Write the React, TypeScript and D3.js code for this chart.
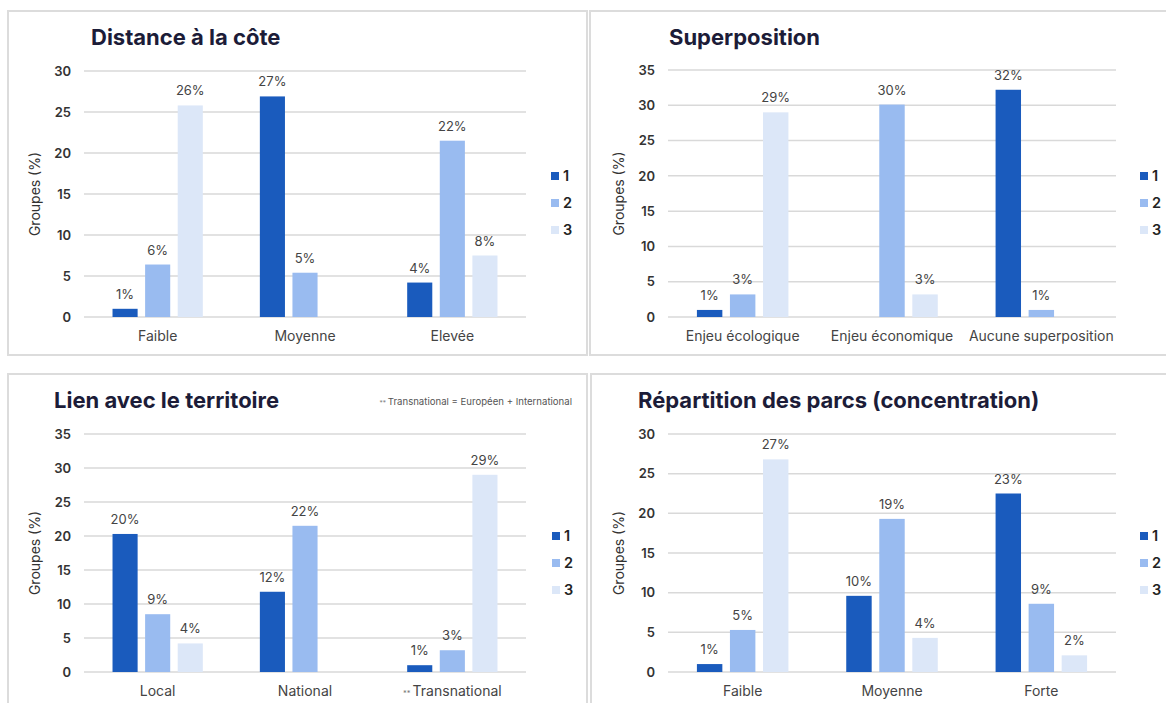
import React from 'react';
import * as d3 from 'd3';

const seriesNames = ['1', '2', '3'];
const seriesColors = ['#1a5bbd', '#99bbf0', '#dce7f8'];

const distanceCategories = ['Faible', 'Moyenne', 'Elevée'];
const distanceS1 = [1.0, 26.9, 4.2];
const distanceS2 = [6.4, 5.4, 21.5];
const distanceS3 = [25.8, null, 7.5];
const distanceTicks = [0, 5, 10, 15, 20, 25, 30];

const superCategories = ['Enjeu écologique', 'Enjeu économique', 'Aucune superposition'];
const superS1 = [1.0, null, 32.2];
const superS2 = [3.2, 30.1, 1.0];
const superS3 = [29.0, 3.2, null];
const superTicks = [0, 5, 10, 15, 20, 25, 30, 35];

const lienCategories = ['Local', 'National', 'Transnational'];
const lienS1 = [20.3, 11.8, 1.0];
const lienS2 = [8.5, 21.5, 3.2];
const lienS3 = [4.2, null, 29.0];
const lienTicks = [0, 5, 10, 15, 20, 25, 30, 35];

const repCategories = ['Faible', 'Moyenne', 'Forte'];
const repS1 = [1.0, 9.6, 22.5];
const repS2 = [5.3, 19.3, 8.6];
const repS3 = [26.8, 4.3, 2.1];
const repTicks = [0, 5, 10, 15, 20, 25, 30];

const FONT = 'Inter, "Noto Sans", sans-serif';

type PanelProps = {
  title: string;
  categories: string[];
  series: (number | null)[][];
  ticks: number[];
  box: [number, number, number, number];
  gx: [number, number];
  gy: [number, number];
  titlePos: [number, number];
  legendX: number;
  legendY: number;
  note?: string;
  starredCategory?: string;
};

function Panel(p: PanelProps) {
  const maxT = p.ticks[p.ticks.length - 1];
  const y = d3.scaleLinear().domain([0, maxT]).range([p.gy[1], p.gy[0]]);
  const x0 = d3.scaleBand<string>().domain(p.categories).range(p.gx).paddingInner(0).paddingOuter(0);
  const x1 = d3
    .scaleBand<string>()
    .domain(seriesNames)
    .range([0, x0.bandwidth()])
    .paddingInner(0.23)
    .paddingOuter(0.875);
  const [bx, by, bw, bh] = p.box;
  return (
    <g>
      <rect x={bx} y={by} width={bw} height={bh} fill="#fff" stroke="#dcdcdc" strokeWidth={2} />
      <text x={p.titlePos[0]} y={p.titlePos[1]} fontFamily={FONT} fontWeight={700} fontSize={22} fill="#1c1c38">
        {p.title}
      </text>
      {p.note && (
        <text x={bx + bw - 15} y={p.titlePos[1] - 3} textAnchor="end" fontFamily={FONT} fontSize={9.6} fill="#555">
          <tspan fontSize={6.5} fill="#888">** </tspan>
          {p.note}
        </text>
      )}
      {p.ticks.map((t) => (
        <g key={t}>
          <line x1={p.gx[0]} x2={p.gx[1]} y1={y(t)} y2={y(t)} stroke="#d9d9d9" strokeWidth={1.5} />
          <text x={p.gx[0] - 13} y={y(t)} dy="0.36em" textAnchor="end" fontFamily={FONT} fontWeight={600} fontSize={13} fill="#333">
            {t}
          </text>
        </g>
      ))}
      <text
        transform={`translate(${p.gx[0] - 49},${(p.gy[0] + p.gy[1]) / 2}) rotate(-90)`}
        textAnchor="middle"
        dy="0.35em"
        fontFamily={FONT}
        fontSize={14}
        fill="#333"
      >
        Groupes (%)
      </text>
      {p.categories.map((c, ci) => (
        <g key={c}>
          {p.series.map((s, si) => {
            const v = s[ci];
            if (v == null) return null;
            const bxp = (x0(c) as number) + (x1(seriesNames[si]) as number);
            return (
              <g key={si}>
                <rect x={bxp} y={y(v)} width={x1.bandwidth()} height={y(0) - y(v)} fill={seriesColors[si]} />
                <text x={bxp + x1.bandwidth() / 2} y={y(v) - 10} textAnchor="middle" fontFamily={FONT} fontSize={13} fill="#444">
                  {Math.round(v) + '%'}
                </text>
              </g>
            );
          })}
          <text x={(x0(c) as number) + x0.bandwidth() / 2} y={p.gy[1] + 24} textAnchor="middle" fontFamily={FONT} fontSize={14} fill="#444">
            {c === p.starredCategory && <tspan fontSize={7.5} fill="#777">** </tspan>}
            {c}
          </text>
        </g>
      ))}
      {seriesNames.map((n, i) => (
        <g key={n}>
          <rect x={p.legendX} y={p.legendY + i * 27 - 4} width={8} height={8} fill={seriesColors[i]} />
          <text x={p.legendX + 12} y={p.legendY + i * 27} dy="0.36em" fontFamily={FONT} fontWeight={600} fontSize={14.5} fill="#222">
            {n}
          </text>
        </g>
      ))}
    </g>
  );
}

export default function App() {
  return (
    <svg width={1166} height={703} style={{ position: 'absolute', left: 0, top: 0, background: '#fff' }}>
      <rect x={0} y={0} width={1166} height={703} fill="#fff" />
      <Panel
        title="Distance à la côte"
        categories={distanceCategories}
        series={[distanceS1, distanceS2, distanceS3]}
        ticks={distanceTicks}
        box={[8, 11, 579, 344]}
        gx={[84, 526]}
        gy={[71, 317]}
        titlePos={[91, 45]}
        legendX={551}
        legendY={176}
      />
      <Panel
        title="Superposition"
        categories={superCategories}
        series={[superS1, superS2, superS3]}
        ticks={superTicks}
        box={[590, 11, 600, 344]}
        gx={[668, 1116]}
        gy={[70, 317]}
        titlePos={[669, 45]}
        legendX={1140}
        legendY={176}
      />
      <Panel
        title="Lien avec le territoire"
        categories={lienCategories}
        series={[lienS1, lienS2, lienS3]}
        ticks={lienTicks}
        box={[8, 374, 579, 340]}
        gx={[84, 526]}
        gy={[434, 672]}
        titlePos={[54, 408]}
        legendX={552}
        legendY={536}
        note="Transnational = Européen + International"
        starredCategory="Transnational"
      />
      <Panel
        title="Répartition des parcs (concentration)"
        categories={repCategories}
        series={[repS1, repS2, repS3]}
        ticks={repTicks}
        box={[591, 374, 600, 340]}
        gx={[668, 1116]}
        gy={[434, 672]}
        titlePos={[638, 408]}
        legendX={1140}
        legendY={536}
      />
    </svg>
  );
}
